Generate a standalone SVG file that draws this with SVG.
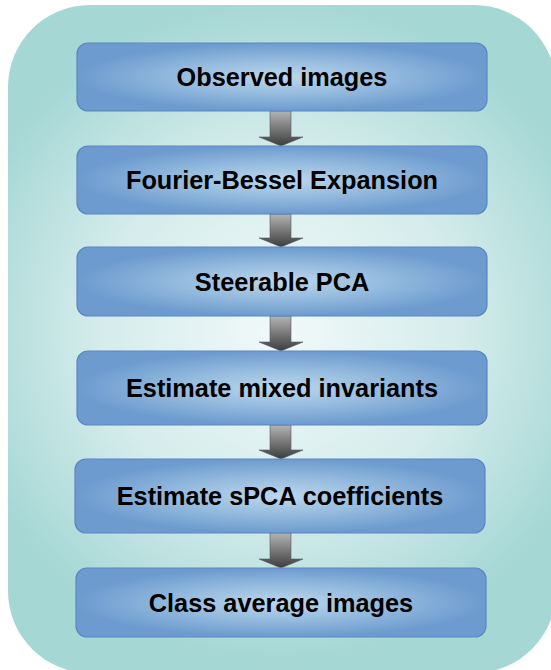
<svg xmlns="http://www.w3.org/2000/svg" width="551" height="670" viewBox="0 0 551 670">
<defs>
<radialGradient id="bg" cx="280" cy="330" r="330" gradientUnits="userSpaceOnUse">
<stop offset="0" stop-color="#f2f9f9"/>
<stop offset="0.55" stop-color="#d4eceb"/>
<stop offset="1" stop-color="#a5d7d5"/>
</radialGradient>
<radialGradient id="box" cx="0.5" cy="0.5" r="0.5" fx="0.5" fy="0.5">
<stop offset="0" stop-color="#bcd7ec"/>
<stop offset="0.5" stop-color="#95bbde"/>
<stop offset="1" stop-color="#6d9bcf"/>
</radialGradient>
<linearGradient id="arr" x1="0" y1="0" x2="0" y2="1">
<stop offset="0" stop-color="#b4b4b4"/>
<stop offset="1" stop-color="#3c3c3c"/>
</linearGradient>
</defs>
<style>
.node rect{fill:url(#box);stroke:#5b87c1;stroke-width:1.2}
.node text{font-family:"Liberation Sans",Arial,sans-serif;font-weight:bold;font-size:25.3px;fill:#000;text-anchor:middle;dominant-baseline:central}
.conn path{fill:url(#arr);stroke:#505a66;stroke-width:0.6}
</style>
<rect x="8" y="5" width="548" height="668" rx="82" fill="url(#bg)"/>
<g class="conn">
<path d="M270 111 H291 V137 H303 L281 146 L259 137 H270 Z"/>
<path d="M270 214 H291 V238 H303 L281 247 L259 238 H270 Z"/>
<path d="M270 316 H291 V342 H303 L281 351 L259 342 H270 Z"/>
<path d="M270 425 H291 V450 H303 L281 459 L259 450 H270 Z"/>
<path d="M270 533 H291 V559 H303 L281 568 L259 559 H270 Z"/>
</g>
<g class="node" id="n1"><rect x="77" y="43" width="410" height="68" rx="11"/><text x="282" y="77">Observed images</text></g>
<g class="node" id="n2"><rect x="77" y="146" width="410" height="68" rx="11"/><text x="282" y="180">Fourier-Bessel Expansion</text></g>
<g class="node" id="n3"><rect x="77" y="247" width="410" height="69" rx="11"/><text x="282" y="282">Steerable PCA</text></g>
<g class="node" id="n4"><rect x="77" y="351" width="410" height="74" rx="11"/><text x="282" y="388">Estimate mixed invariants</text></g>
<g class="node" id="n5"><rect x="75" y="459" width="410" height="74" rx="11"/><text x="280" y="496">Estimate sPCA coefficients</text></g>
<g class="node" id="n6"><rect x="76" y="568" width="410" height="69" rx="11"/><text x="281" y="603">Class average images</text></g>
</svg>
